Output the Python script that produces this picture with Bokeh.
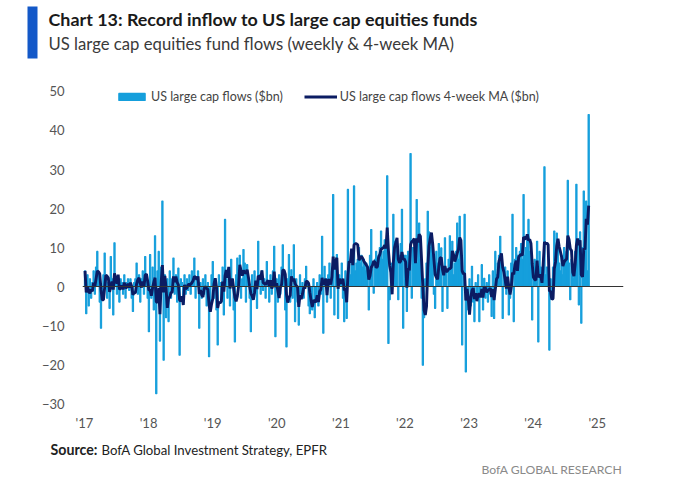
import pandas as pd
from bokeh.plotting import figure
from bokeh.layouts import column
from bokeh.models import (ColumnDataSource, FixedTicker, Label, Span, Legend,
                          LegendItem, BoxAnnotation, Range1d)
from bokeh.embed import file_html
from bokeh.resources import INLINE

# ---------------- data (weekly flows, $bn) ----------------
flows_2017 = [4, -7, 3, -5, 2, -3, 1, 4, -2, 5, 9, 3, -4, -10.7, -2, 3, 8.6, 2, -3, 1,
              -5.6, 7.7, 2, -7.3, 11.2, 1, -2, 2, -4, 2, 1, -2, 3, -3, 1, 2, -1, 2, -3, -6.4,
              1, 2, 6, -2, 3, -4, 2, 4, -2, 7.7, 3, -3]
flows_2018 = [-11.6, 8.2, -3, 5, -6, 13, -27.5, 4, 9, -14, 5, 21.9, -18.9, 3, -8, 2, -9, 4, -3, 2,
              7.3, -2, 3, -4, 4.7, -17.6, 2, 1, -4.3, 3, -2, 2, -1, 3, -2, 4, 1, 7.3, -3, 2,
              4, -10.7, 1, -3, 2, -2, 3, -5, 1, -18, -4, 3]
flows_2019 = [6.4, -3, 2, -6, -15, 3, 1, -4, 5, -7.3, 17.2, 2, -3, 4, -5, 7, 2, -6, -14.2, 3,
              7.3, 4, 8, -3, 2, 9.5, 6, -4, 5.6, 2, -3, -11.6, 3, -2, 4, 1, -5.6, 11.6, 3, -2,
              4, -1, 2, -3, 6.4, 1, -4, 3, -2, 4, 10.3, -12.9]
flows_2020 = [2, -4, 3, -2, 5, 10.7, 3, -6, -15.5, 2, 8.2, -4, 4.3, -3, 10.7, -9, 2, -4, -9.9, 3,
              -2, 1, -3, 2, 5.2, 1, -5, -7, -3, -6, 2, -8, -4, 1, -5, 3, -2, 12.9, -12, 5.2,
              2, -4, 3, 6, -3, 4, 23.6, -7.3, 5, 8.2, -8.2, 3]
flows_2021 = [2, 6, -3, -9, 4, -8.2, 24.9, 5, 3, 6, 8, 25.8, 4, 6, 7, 10, 6, 8, 5, 7,
              4, 6, 3, -6, 8, 14.6, 5, -1.7, 7, 9, 6, 8, 10, 14.2, 7, 9, 12, 11, 28.4, -14.6,
              -3.4, 4, 6, 18.5, 11.6, 9, 10.7, -3.4, 8, 11, 19.8, -10.7]
flows_2022 = [8, 8, -6.4, 9, 6, 34.1, -3, 10, 8, 9, 22.3, 6, 16.3, 7, -3, -20.2, -8, 2, 6, 19.3,
              14, 10, 12, 8, -2, -5.6, 9, 6, 11, 3, 9.9, -6.4, 5, 12.5, 4, -5.6, 7, 13, 5, 11.6,
              3, 6, 9, 16.3, 7, 18, 6, -15, 4, 18.5, -21.9, -3]
flows_2023 = [-6, 2, -5, 5.2, -4, -9, 1, -3, 3, -9, -2, 5.6, -6, 2.1, -3, 1, -4, 3, -2, -7.7,
              4, -8.2, 9, 3, 6, 8, 12.9, 7, -8.2, 3, 5, -2, 4, -7.3, -3, 6, 18.5, -9, 7, 10,
              8, 5, 9, 11, 7, 23.6, 8, 10, 12, 17.2, 9, 6]
flows_2024 = [-8.6, 3, 7, 5, 11.6, -14.2, 9, 5, 4, 6, 30.7, 3, 5, 4, -16.3, 2, -3, 5, 14.2, 9,
              13.7, 12, 6, 4, 8, 3, 10, 6, 9, 27.2, 6, -3.4, 7, 5, 2, 9, 26.2, 12, -4.7, 14,
              -9.4, 10, 24.5, 13, 21.9, 4, 44.1]

weekly_flows = (flows_2017 + flows_2018 + flows_2019 + flows_2020 + flows_2021
                + flows_2022 + flows_2023 + flows_2024)
first_week = "2017-01-04"

year_ticks = [2017, 2018, 2019, 2020, 2021, 2022, 2023, 2024, 2025]
year_labels = ["'17", "'18", "'19", "'20", "'21", "'22", "'23", "'24", "'25"]
y_ticks = [-30, -20, -10, 0, 10, 20, 30, 40, 50]

title_text = "Chart 13: Record inflow to US large cap equities funds"
subtitle_text = "US large cap equities fund flows (weekly & 4-week MA)"
series_names = ["US large cap flows ($bn)", "US large cap flows 4-week MA ($bn)"]
source_bold = "Source:"
source_rest = "BofA Global Investment Strategy, EPFR"
brand_text = "BofA GLOBAL RESEARCH"

# ---------------- derived ----------------
dates = pd.date_range(first_week, periods=len(weekly_flows), freq="7D")
x_years = 2017 + (dates - pd.Timestamp("2017-01-01")).days / 365.25
ma4 = pd.Series(weekly_flows).rolling(4, min_periods=1).mean()
src = ColumnDataSource(dict(x=list(x_years), flow=weekly_flows, ma=list(ma4)))

BAR = "#159FDC"
NAVY = "#0B1C63"
FONT = "Lato"
W = 690


def blank(height, y_top, y_bottom):
    f = figure(width=W, height=height, output_backend="svg", toolbar_location=None,
               title=None, x_range=Range1d(0, W), y_range=Range1d(y_bottom, y_top),
               x_axis_type=None, y_axis_type=None,
               min_border=0, min_border_left=0, min_border_right=0,
               min_border_top=0, min_border_bottom=0)
    f.frame_align = False
    f.xgrid.visible = False
    f.ygrid.visible = False
    f.outline_line_color = None
    f.background_fill_color = "white"
    f.border_fill_color = "white"
    return f


# ---------------- header (canvas y 0..80) ----------------
head = blank(80, 0, 80)
head.add_layout(BoxAnnotation(left=27, right=37, top=6, bottom=58,
                              fill_color="#1358C8", fill_alpha=1, line_color=None))
head.add_layout(Label(x=48, y=29, text=title_text, text_font=FONT,
                      text_font_style="bold", text_font_size="17.9px",
                      text_color="#1a1a1a"))
head.add_layout(Label(x=48, y=53, text=subtitle_text, text_font=FONT,
                      text_font_size="16.7px", text_color="#3a3a3a"))

# ---------------- main chart (canvas y 80..436, frame 80..408, x 82..623) ----------------
p = figure(width=W, height=356, output_backend="svg", toolbar_location=None,
           title=None, x_range=(2016.969, 2025.409), y_range=(-31.28, 52.82),
           min_border_left=82, min_border_right=67, min_border_top=0,
           min_border_bottom=28)
p.frame_align = False
p.outline_line_color = None
p.xgrid.visible = False
p.ygrid.visible = False
p.background_fill_color = "white"
p.border_fill_color = "white"

bar_w = 7 / 365.25
bars = p.vbar(x="x", top="flow", width=bar_w, source=src, fill_color=BAR,
              line_color=BAR, line_width=1.1)
line = p.line(x="x", y="ma", source=src, line_color=NAVY, line_width=2.9)

p.add_layout(Span(location=0, dimension="width", line_color="#333333", line_width=1.2))

for ax in (p.xaxis[0], p.yaxis[0]):
    ax.axis_line_color = None
    ax.major_tick_line_color = None
    ax.minor_tick_line_color = None
    ax.major_label_text_font = FONT
    ax.major_label_text_font_size = "13px"
    ax.major_label_text_color = "#555555"

p.yaxis[0].ticker = FixedTicker(ticks=y_ticks)
p.yaxis[0].major_label_standoff = 12
p.xaxis[0].ticker = FixedTicker(ticks=year_ticks)
p.xaxis[0].major_label_overrides = {t: l for t, l in zip(year_ticks, year_labels)}
p.xaxis[0].major_label_standoff = 0

legend = Legend(items=[LegendItem(label=series_names[0], renderers=[bars]),
                       LegendItem(label=series_names[1], renderers=[line])],
                orientation="horizontal", location=(33, 304),
                glyph_width=33, glyph_height=9, label_standoff=3, spacing=21,
                padding=0, margin=0, border_line_color=None,
                background_fill_alpha=0, label_text_font=FONT,
                label_text_font_size="12.5px", label_text_color="#444444",
                label_height=9)
p.add_layout(legend)

# ---------------- footer (canvas y 436..491) ----------------
foot = blank(55, 436, 491)
foot.add_layout(Label(x=50, y=457, text=source_bold, text_font=FONT,
                      text_font_style="bold", text_font_size="14.2px",
                      text_color="#222222"))
foot.add_layout(Label(x=101, y=457, text=source_rest, text_font=FONT,
                      text_font_size="13.2px", text_color="#222222"))
foot.add_layout(Label(x=622, y=476, text=brand_text, text_font=FONT,
                      text_font_size="12.2px", text_align="right",
                      text_color="#8a8a8a"))

layout = column(head, p, foot, spacing=0)
open("out.html", "w").write(file_html(layout, INLINE))
